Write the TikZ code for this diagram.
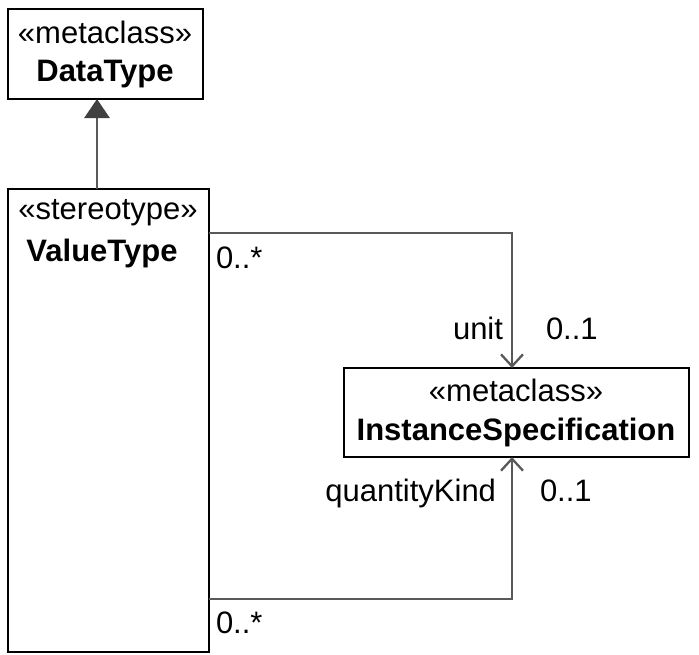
\documentclass[tikz,border=0pt]{standalone}
\usepackage{fontspec}
\setmainfont{Liberation Sans}
\usetikzlibrary{arrows.meta}
\begin{document}
\begin{tikzpicture}[x=1pt,y=-1pt,
  every node/.style={inner sep=0pt,outer sep=0pt,font=\fontsize{31}{37}\selectfont},
  bold/.style={font=\fontsize{31}{37}\selectfont\bfseries},
  classbox/.style={draw=black,line width=2pt,fill=white},
  conn/.style={draw=black!65,line width=2.3pt},
  gen/.style={conn,line width=2.8pt,-{Triangle[width=25pt,length=19pt,fill=black!75,color=black!75]}},
  assoc/.style={conn,-{Straight Barb[width=22pt,length=12pt,line width=2.3pt]}},
  lbl/.style={text=black}]
\useasboundingbox (0,0) rectangle (699,654);
% boxes
\node[classbox,minimum width=195pt,minimum height=90pt,anchor=north west] (dt) at (8,9) {};
\node[classbox,minimum width=201pt,minimum height=463pt,anchor=north west] (vt) at (8,189) {};
\node[classbox,minimum width=345pt,minimum height=89pt,anchor=north west] (is) at (344,368) {};
% box texts
\node[anchor=base] (dtst) at (105,43) {«metaclass»};
\node[anchor=base,bold] (dtnm) at (105,81) {DataType};
\node[anchor=base] (vtst) at (108,219) {«stereotype»};
\node[anchor=base,bold] (vtnm) at (102,261) {ValueType};
\node[anchor=base] (isst) at (516,401) {«metaclass»};
\node[anchor=base,bold] (isnm) at (516,440) {InstanceSpecification};
% coordinates
\coordinate (g1) at (97,189);
\coordinate (g2) at (97,99);
\coordinate (a1) at (209,233);
\coordinate (a2) at (512,233);
\coordinate (a3) at (512,368);
\coordinate (b1) at (209,599);
\coordinate (b2) at (512,599);
\coordinate (b3) at (512,457);
% connectors
\draw[gen] (g1) -- (g2);
\draw[assoc] (a1) -- (a2) -- (a3);
\draw[assoc] (b1) -- (b2) -- (b3);
% labels
\node[lbl,anchor=base west] (m1) at (216,268) {0..*};
\node[lbl,anchor=base east] (unit) at (503,339) {unit};
\node[lbl,anchor=base west] (m2) at (546,339) {0..1};
\node[lbl,anchor=base east] (qk) at (496,501) {quantityKind};
\node[lbl,anchor=base west] (m3) at (540,501) {0..1};
\node[lbl,anchor=base west] (m4) at (216,633) {0..*};
\end{tikzpicture}
\end{document}
